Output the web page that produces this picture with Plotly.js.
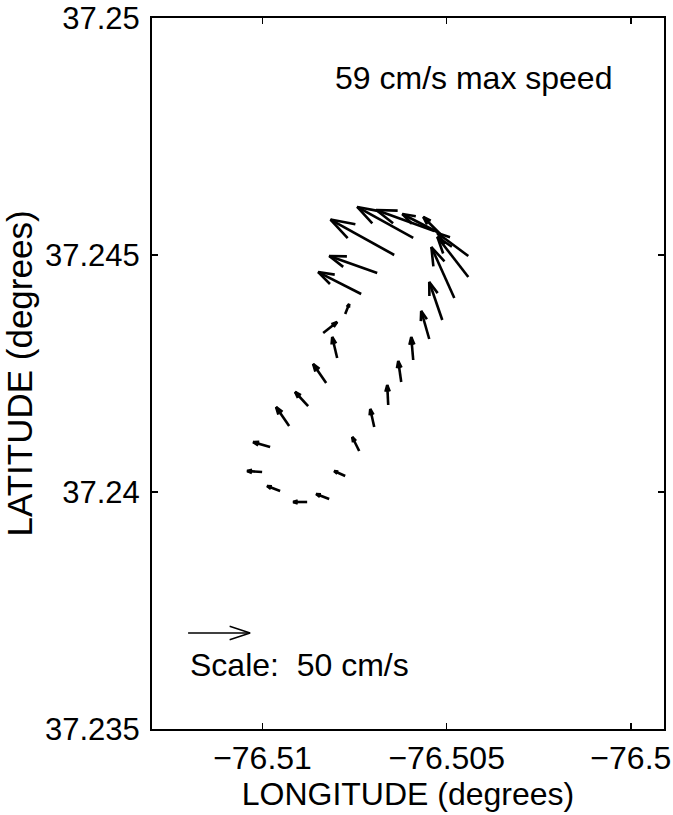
<!DOCTYPE html>
<html><head><meta charset="utf-8">
<script src="https://cdn.plot.ly/plotly-3.0.1.min.js"></script>
<style>html,body{margin:0;padding:0;background:#fff}</style>
</head><body><div id="chart" style="width:673px;height:815px"></div>
<script>
// Positions of current measurements (degrees)
const lon = [-76.504413,-76.505174,-76.505255,-76.505337,-76.505908,-76.506424,-76.506886,-76.507321,
  -76.507755,-76.508353,-76.507973,-76.508272,-76.508761,-76.509277,
  -76.509793,-76.510011,-76.509522,-76.508788,-76.508190,-76.507755,
  -76.507375,-76.506967,-76.506587,-76.506234,-76.505908,-76.505473,-76.505120,-76.504793,-76.504413];
const lat = [37.244979,37.245443,37.245485,37.245506,37.245359,37.245000,37.244620,37.244177,
  37.243755,37.243354,37.242827,37.242300,37.241814,37.241392,
  37.240949,37.240422,37.240021,37.239789,37.239852,37.240338,
  37.240865,37.241371,37.241835,37.242321,37.242785,37.243228,37.243629,37.244093,37.244536];
// East (u) and north (v) velocity components, cm/s
const u = [-25.0,-13.7,-28.2,-46.8,-45.2,-51.4,-38.7,-34.7,
  3.2,11.3,-4.0,-10.5,-10.5,-10.5,
  -13.7,-12.1,-10.5,-11.3,-10.5,-8.9,
  -5.6,-3.2,-0.8,-2.4,-1.6,-6.5,-10.5,-18.5,-25.0];
const v = [18.5,13.7,14.5,16.9,25.0,28.6,13.7,17.7,
  8.1,8.9,16.9,15.3,11.3,15.3,
  4.0,0.8,4.0,0.0,4.0,4.0,
  11.3,14.5,16.1,16.9,18.5,22.6,30.6,41.1,32.3];
const maxSpeed = 59;      // cm/s
const scaleSpeed = 50;    // cm/s (reference arrow)
const xTickVals = [-76.51, -76.505, -76.5];
const xTickText = ['\u221276.51', '\u221276.505', '\u221276.5'];
const yTickVals = [37.235, 37.24, 37.245, 37.25];
const yTickText = ['37.235', '37.24', '37.245', '37.25'];

// layout geometry
const W = 673, H = 815;
const M = {l: 152, r: 9, t: 18, b: 86};
const xRange = [-76.513, -76.4991];
const yRange = [37.235, 37.25];
const pxPerLon = (W - M.l - M.r) / (xRange[1] - xRange[0]);
const pxPerLat = (H - M.t - M.b) / (yRange[1] - yRange[0]);
const pxPerCms = 1.24;              // drawn arrow length per cm/s
const kx = pxPerCms / pxPerLon;     // degrees lon per cm/s
const ky = pxPerCms / pxPerLat;     // degrees lat per cm/s
const alpha = 0.33, beta = 0.33;    // quiver-style arrowhead

function quiver(X, Y, U, V) {
  const xs = [], ys = [];
  for (let i = 0; i < X.length; i++) {
    const uu = U[i], vv = V[i];
    const hx = X[i] + uu * kx, hy = Y[i] + vv * ky;
    xs.push(X[i], hx, null);
    ys.push(Y[i], hy, null);
    const b1u = uu - alpha * (uu + beta * vv), b1v = vv - alpha * (vv - beta * uu);
    const b2u = uu - alpha * (uu - beta * vv), b2v = vv - alpha * (vv + beta * uu);
    xs.push(X[i] + b1u * kx, hx, X[i] + b2u * kx, null);
    ys.push(Y[i] + b1v * ky, hy, Y[i] + b2v * ky, null);
  }
  return {xs, ys};
}

const q = quiver(lon, lat, u, v);
const scaleLon = [-76.51202], scaleLat = [37.237025];
const sq = quiver(scaleLon, scaleLat, [scaleSpeed], [0]);

const font = {family: '"Liberation Sans", Arial, Helvetica, sans-serif', color: '#000'};

const data = [
  {type: 'scatter', mode: 'lines', x: q.xs, y: q.ys, connectgaps: false,
   line: {color: '#000', width: 2.6}, hoverinfo: 'skip', showlegend: false},
  {type: 'scatter', mode: 'lines', x: sq.xs, y: sq.ys, connectgaps: false,
   line: {color: '#000', width: 1.4}, hoverinfo: 'skip', showlegend: false}
];

const layout = {
  width: W, height: H, margin: M,
  paper_bgcolor: '#fff', plot_bgcolor: '#fff',
  font: Object.assign({size: 31}, font),
  showlegend: false,
  xaxis: {range: xRange, tickvals: xTickVals, ticktext: xTickText,
    ticks: 'inside', ticklen: 6, tickwidth: 1.5, tickcolor: '#000',
    showline: true, linecolor: '#000', linewidth: 2, mirror: 'ticks',
    showgrid: false, zeroline: false, ticklabelstandoff: 0,
    tickfont: Object.assign({size: 32}, font),
    title: {text: 'LONGITUDE (degrees)', font: Object.assign({size: 32}, font), standoff: 0}},
  yaxis: {range: yRange, tickvals: yTickVals, ticktext: yTickText,
    ticks: 'inside', ticklen: 6, tickwidth: 1.5, tickcolor: '#000',
    showline: true, linecolor: '#000', linewidth: 2, mirror: 'ticks',
    showgrid: false, zeroline: false, ticklabelstandoff: 4,
    tickfont: Object.assign({size: 31}, font),
    title: {text: 'LATITUDE (degrees)', font: Object.assign({size: 35}, font), standoff: 4}},
  annotations: [
    {x: -76.50808, y: 37.248734, xref: 'x', yref: 'y', xanchor: 'left', yanchor: 'middle',
     text: maxSpeed + ' cm/s max speed', showarrow: false, font: Object.assign({size: 32}, font)},
    {x: -76.51202, y: 37.23635, xref: 'x', yref: 'y', xanchor: 'left', yanchor: 'middle',
     text: 'Scale:  ' + scaleSpeed + ' cm/s', showarrow: false, font: Object.assign({size: 32}, font)}
  ]
};

Plotly.newPlot('chart', data, layout, {staticPlot: true, displayModeBar: false});
</script>
</body></html>
